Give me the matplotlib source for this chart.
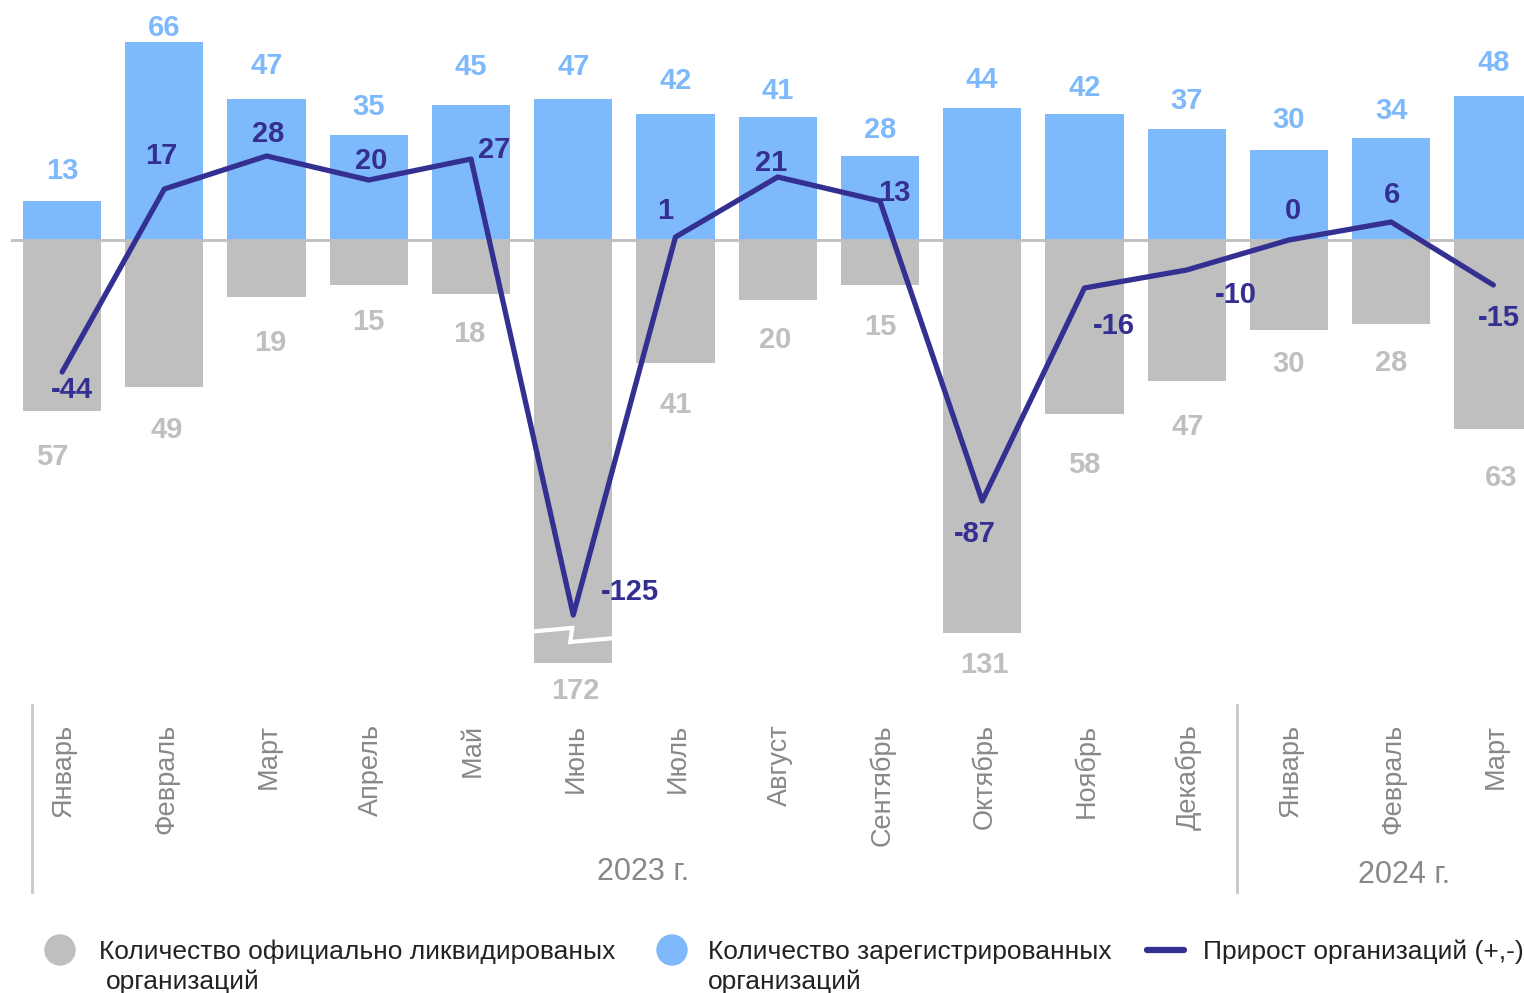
import matplotlib
matplotlib.use("Agg")
import matplotlib.pyplot as plt
from matplotlib.transforms import blended_transform_factory
from matplotlib.lines import Line2D
from matplotlib.patches import Circle

plt.rcParams["font.family"] = ["Liberation Sans", "DejaVu Sans"]

months = ["Январь", "Февраль", "Март", "Апрель", "Май", "Июнь", "Июль", "Август",
          "Сентябрь", "Октябрь", "Ноябрь", "Декабрь", "Январь", "Февраль", "Март"]
registered = [13, 66, 47, 35, 45, 47, 42, 41, 28, 44, 42, 37, 30, 34, 48]
liquidated = [57, 49, 19, 15, 18, 172, 41, 20, 15, 131, 58, 47, 30, 28, 63]
growth = [-44, 17, 28, 20, 27, -125, 1, 21, 13, -87, -16, -10, 0, 6, -15]
years = ["2023 г.", "2024 г."]

BLUE = "#7EB9FB"
GRAY = "#BFBFBF"
NAVY = "#343092"
TEXT_GRAY = "#888888"
CAP = 141  # June bar is drawn broken

W, H = 1524, 993
fig = plt.figure(figsize=(W / 100, H / 100), dpi=100)

# main axes: pixel rows 0..700, zero line at 240, 3 px per unit
ax = fig.add_axes([11 / W, 1 - 700 / H, (W - 11) / W, 700 / H])
ax.set_xlim(-0.5, 14.3)
ax.set_ylim(-460 / 3, 80)
ax.axis("off")

x = list(range(len(months)))
bw = 0.765
liq_shown = [min(v, CAP) for v in liquidated]
ax.bar(x, registered, width=bw, color=BLUE, zorder=2)
ax.bar(x, [-v for v in liq_shown], width=bw, color=GRAY, zorder=2)
ax.axhline(0, color=GRAY, lw=2, zorder=3)

# break mark on the truncated bar
for i, v in enumerate(liquidated):
    if v > CAP:
        bx = [i - 0.4, i - 0.01, i - 0.03, i + 0.4]
        by = [-130.5, -129.3, -134.0, -132.7]
        ax.plot(bx, by, color="white", lw=3, zorder=4, solid_joinstyle="miter")

ax.plot(x, growth, color=NAVY, lw=3.8, zorder=5, solid_joinstyle="round",
        solid_capstyle="round")

# value labels
blue_dy = [30, 14, 33, 28, 38, 32, 33, 26, 26, 28, 26, 28, 30, 27, 33]
gray_dy = [46, 43, 46, 37, 40, 28, 42, 40, 42, 32, 51, 46, 34, 39, 49]
gray_dx = [-10, 2, 4, 0, -2, 2, 0, -3, 0, 2, 0, 1, 0, 0, 8]
for i in x:
    ax.annotate(str(registered[i]), (i, registered[i]), xytext=(0, blue_dy[i]),
                textcoords="offset pixels", ha="center", va="center",
                fontsize=21, fontweight="bold", color=BLUE, zorder=6)
    ax.annotate(str(liquidated[i]), (i, -liq_shown[i]),
                xytext=(gray_dx[i], -gray_dy[i]), textcoords="offset pixels",
                ha="center", va="center", fontsize=21, fontweight="bold",
                color=GRAY, zorder=6)

line_off = [(10, -18), (-3, 33), (2, 22), (2, 19), (23, 9), (57, 23), (-10, 26),
            (-7, 14), (14, 8), (-7, -33), (29, -38), (49, -25), (4, 29), (1, 27),
            (6, -33)]
for i in x:
    ax.annotate(str(growth[i]), (i, growth[i]), xytext=line_off[i],
                textcoords="offset pixels", ha="center", va="center",
                fontsize=21, fontweight="bold", color=NAVY, zorder=7)

# overlay in pixel coordinates for the lower part
ov = fig.add_axes([0, 0, 1, 1])
ov.set_xlim(0, W)
ov.set_ylim(H, 0)
ov.axis("off")
ov.patch.set_alpha(0)

tr = blended_transform_factory(ax.transData, ov.transData)
for i, m in enumerate(months):
    ov.text(i + 0.02, 724, m, transform=tr, rotation=90, ha="center", va="top",
            fontsize=19.5, color=TEXT_GRAY)

for sx in (32, 1237):
    ov.add_line(Line2D([sx, sx], [705, 892], color="#C8C8C8", lw=2))
ov.text(643, 872, years[0], ha="center", va="center", fontsize=22, color=TEXT_GRAY)
ov.text(1404, 875, years[1], ha="center", va="center", fontsize=22, color=TEXT_GRAY)

# legend
ov.add_patch(Circle((60, 950), 15, color=GRAY))
ov.add_patch(Circle((672, 950), 15, color=BLUE))
ov.add_line(Line2D([1147, 1184], [950, 950], color=NAVY, lw=4.5,
                   solid_capstyle="round"))
fs = 19
ov.text(99, 952, "Количество официально ликвидированых", ha="left",
        va="center", fontsize=fs, color="#222222")
ov.text(106, 982, "организаций", ha="left", va="center", fontsize=fs,
        color="#222222")
ov.text(708, 952, "Количество зарегистрированных", ha="left", va="center",
        fontsize=fs, color="#222222")
ov.text(708, 982, "организаций", ha="left", va="center", fontsize=fs,
        color="#222222")
ov.text(1203, 952, "Прирост организаций (+,-)", ha="left", va="center",
        fontsize=fs, color="#222222")

fig.savefig("out.png", dpi=100)
